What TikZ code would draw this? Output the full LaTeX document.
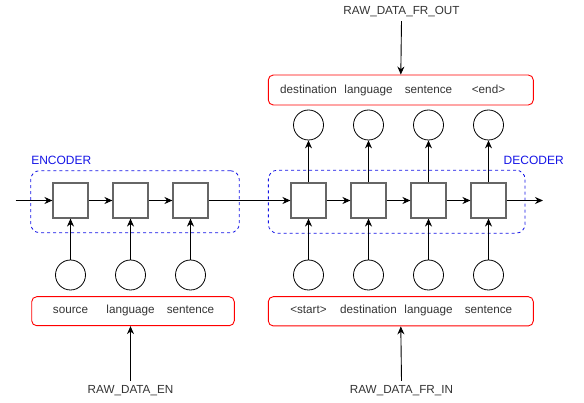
\documentclass[tikz,border=0pt]{standalone}
\usepackage{fontspec}
\setmainfont{Liberation Sans}
\usetikzlibrary{arrows.meta}
\definecolor{cellgray}{HTML}{666666}
\definecolor{txtgray}{HTML}{333333}
\definecolor{grpblue}{HTML}{1414E6}
\tikzset{
  cell/.style={draw=cellgray,line width=1.6pt,minimum size=34.5pt,inner sep=0pt},
  tok/.style={draw,circle,line width=0.8pt,minimum size=30pt,inner sep=0pt},
  words/.style={draw=red,line width=0.9pt,rounded corners=5pt,inner sep=0pt},
  grp/.style={draw=grpblue,dashed,line width=0.8pt,rounded corners=9pt,inner sep=0pt},
  wtxt/.style={text=txtgray,font=\fontsize{11.7}{13}\selectfont,text height=8.6pt,text depth=2.6pt},
  gtxt/.style={text=grpblue,font=\fontsize{12}{14}\selectfont},
  arr/.style={-{Stealth[length=8pt,width=7pt]},line width=0.9pt}
}
\begin{document}
\begin{tikzpicture}[x=1pt,y=-1pt]
  \useasboundingbox (0,0) rectangle (584,403);
  % groups
  \node[grp,minimum width=208.6pt,minimum height=62pt] (encgrp) at (135,201.7) {};
  \node[grp,minimum width=256.7pt,minimum height=63pt] (decgrp) at (396.7,201.7) {};
  \node[gtxt] (enclbl) at (61.3,160.7) {ENCODER};
  \node[gtxt] (declbl) at (533.7,160.2) {DECODER};
  % word boxes
  \node[words,minimum width=202.6pt,minimum height=29pt] (srcbox) at (133,311.2) {};
  \node[words,minimum width=265pt,minimum height=29.3pt] (inbox) at (400.8,311.3) {};
  \node[words,minimum width=265pt,minimum height=30pt] (outbox) at (400.8,90) {};
  %% encoder cells
  \foreach \i/\x/\w in {1/70.5/source,2/130.5/language,3/190.5/sentence}
  {
    \node[cell] (e\i) at (\x,200.5) {};
    \node[tok] (ei\i) at (\x,275) {};
    \node[wtxt] (ew\i) at (\x,311) {\w};
    \draw[arr] (ei\i) -- (e\i);
  }
  %% decoder cells
  \foreach \i/\x/\w/\o in {1/308.5/<start>/destination,2/368.5/destination/language,
                           3/428.5/language/sentence,4/488.5/sentence/<end>}
  {
    \node[cell] (d\i) at (\x,200.5) {};
    \node[tok] (di\i) at (\x,275) {};
    \node[tok] (do\i) at (\x,125) {};
    \node[wtxt] (dw\i) at (\x,311) {\w};
    \node[wtxt] (ow\i) at (\x,90.5) {\o};
    \draw[arr] (di\i) -- (d\i);
    \draw[arr] (d\i) -- (do\i);
  }
  % the chain
  \coordinate (start) at (15.7,200.5);
  \coordinate (stop) at (543,200.5);
  \draw[arr] (start) -- (e1);
  \draw[arr] (e1) -- (e2);
  \draw[arr] (e2) -- (e3);
  \draw[arr] (e3) -- (d1);
  \draw[arr] (d1) -- (d2);
  \draw[arr] (d2) -- (d3);
  \draw[arr] (d3) -- (d4);
  \draw[arr] (d4) -- (stop);
  % raw data
  \node[wtxt] (rawen) at (130.5,390) {RAW\_DATA\_EN};
  \node[wtxt] (rawin) at (401.5,390) {RAW\_DATA\_FR\_IN};
  \node[wtxt] (rawout) at (401.5,12) {RAW\_DATA\_FR\_OUT};
  \draw[arr] (rawen.north) -- (rawen.north |- srcbox.south);
  \draw[arr] (rawin.north) -- (inbox.south);
  \draw[arr] (rawout.south) -- (outbox.north);
\end{tikzpicture}
\end{document}
